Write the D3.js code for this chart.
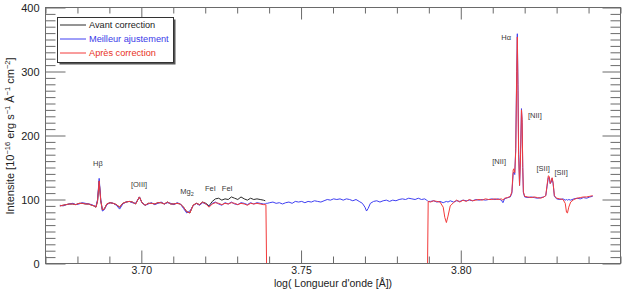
<!DOCTYPE html>
<html>
<head>
<meta charset="utf-8">
<script src="https://cdn.jsdelivr.net/npm/d3@7"></script>
<style>
html,body{margin:0;padding:0;background:#fff;}
svg{display:block;font-family:"Liberation Sans",Arial,Helvetica,sans-serif;}
</style>
</head>
<body>
<svg id="chart" width="630" height="290"></svg>
<script>
// ---- data ----
const logLambda = [
 3.6745,3.6755,3.6765,3.6775,3.6785,3.6795,3.6805,3.6815,3.6825,3.6835,3.6845,
 3.6852,3.6858,3.6863,3.6868,3.6873,3.6878,3.6884,
 3.6892,3.6902,3.6912,3.6922,3.6932,3.6942,3.6952,3.6962,3.6972,3.6982,3.6994,3.7002,3.7012,3.7022,3.7032,3.7042,3.7052,3.7062,3.7072,3.7082,3.7092,3.7102,3.7112,3.7122,3.7132,3.7142,3.7152,3.7162,3.7172,3.7182,3.7192,3.7202,3.7212,3.7222,3.7232,3.7242,3.7252,3.7262,3.7272,3.7282,3.7292,3.7302,3.7312,3.7322,3.7332,3.7342,3.7352,3.7362,3.7372,3.7382,
 3.7388,3.7390,3.7392,3.7394,
 3.7402,3.7412,3.7422,3.7432,3.7442,3.7452,3.7462,3.7472,3.7482,3.7492,3.7502,3.7512,3.7522,3.7532,3.7542,3.7552,3.7562,3.7572,3.7582,3.7592,3.7602,3.7612,3.7622,3.7632,3.7642,3.7652,3.7662,3.7672,3.7682,3.7692,
 3.7700,3.7705,3.7710,3.7717,
 3.7727,3.7737,3.7747,3.7757,3.7767,3.7777,3.7787,3.7797,3.7807,3.7817,3.7827,3.7837,3.7847,3.7857,3.7867,3.7877,3.7887,3.7893,
 3.7896,3.7898,
 3.7905,3.7915,3.7925,3.7935,3.7945,3.7950,3.7955,3.7960,3.7967,3.7977,3.7987,3.7997,3.8007,3.8017,3.8027,3.8037,3.8047,3.8057,3.8067,3.8077,3.8087,3.8097,3.8107,3.8117,3.8127,
 3.8132,3.8137,3.8147,3.8155,3.8160,3.8164,3.8166,3.8169,3.8172,3.8175,3.8177,3.8179,3.8181,3.8184,3.8187,3.8190,3.8192,3.8194,3.8196,3.8200,
 3.8210,3.8220,3.8230,3.8240,3.8250,3.8260,3.8266,3.8270,3.8274,3.8277,3.8280,3.8283,3.8286,3.8289,3.8293,
 3.8300,3.8310,3.8320,3.8327,3.8331,3.8334,3.8338,3.8344,3.8354,3.8364,3.8374,3.8384,3.8394,3.8404,3.8413
];

// "Avant correction": only the first part of the wavelength grid
const avant = [
 90,91,92,93,93,92,94,94,93,93,91,
 90,88,98,129,98,84,85,
 93,95,94,92,88,94,96,97,96,93,104,95,91,94,94,93,95,95,93,96,93,93,94,93,88,81,79,91,94,92,96,94,90,97,101,102,99,101,100,104,102,100,104,101,99,102,100,101,100,99,
 98
];

const ajustement = [
 91,90,92,93,94,92,93,95,94,93,92,
 90,89,100,133,100,82,84,
 92,95,94,91,85,93,96,97,95,94,104,95,91,93,95,92,94,96,93,95,94,92,95,93,86,79,82,90,94,91,95,93,89,94,96,93,91,95,93,96,93,92,95,94,92,95,93,95,94,93,
 93,94,94,94,
 95,96,94,95,93,95,96,94,97,96,97,95,97,96,98,97,96,98,100,99,101,100,101,99,101,100,98,100,97,94,
 88,82,86,94,
 97,98,96,98,99,97,99,98,100,101,100,102,101,100,102,100,101,99,
 98,97,
 97,98,96,97,95,96,97,96,98,96,98,97,99,98,99,98,100,99,100,99,100,101,100,101,99,
 95,101,103,104,110,140,143,139,180,300,359,280,180,122,170,242,220,150,111,104,
 103,104,103,102,103,104,106,120,134,134,125,127,133,125,105,
 101,100,101,99,100,99,100,99,101,102,101,103,102,104,105
];

const apres = [
 90,91,92,93,93,92,94,94,93,93,91,
 90,88,98,129,98,84,85,
 93,95,94,92,88,94,96,97,96,93,104,95,91,94,94,93,95,95,93,96,93,93,94,93,88,81,79,91,94,92,96,93,88,93,95,94,92,94,93,95,94,92,94,93,91,94,93,94,93,92,
 92,92,0,0,
 0,0,0,0,0,0,0,0,0,0,0,0,0,0,0,0,0,0,0,0,0,0,0,0,0,0,0,0,0,0,
 0,0,0,0,
 0,0,0,0,0,0,0,0,0,0,0,0,0,0,0,0,0,0,
 0,97,
 96,98,97,96,88,72,64,74,90,95,99,96,99,97,100,98,99,100,99,101,100,100,101,100,101,
 99,102,103,105,112,146,148,142,175,290,354,270,170,122,165,240,225,150,112,105,
 104,103,104,103,102,104,106,122,137,136,125,129,134,126,106,
 102,101,100,94,80,79,88,96,100,102,103,104,104,105,106
];

const seriesNames = ["Avant correction", "Meilleur ajustement", "Après correction"];
const seriesColors = ["#2a2a2a", "#3f3ff2", "#f23a3a"];
const legendTextColors = ["#222222", "#3a3ae8", "#e8321e"];

const xMajorTicks = [3.70, 3.75, 3.80];
const yMajorTicks = [0, 100, 200, 300, 400];

const lineLabels = ["Hβ", "[OIII]", "Mg2", "FeI", "FeI", "Hα", "[NII]", "[NII]", "[SII]", "[SII]"];
const lineLabelX = [3.6864, 3.6993, 3.7143, 3.7216, 3.7269, 3.8142, 3.8232, 3.8120, 3.8258, 3.8314];
const lineLabelY = [157, 124, 113, 118, 118, 354, 232, 159, 149, 142];

// ---- drawing ----
const svg = d3.select("#chart");
const L = 45.5, R = 620.5, T = 7.5, B = 263.5;
const x = d3.scaleLinear().domain([3.67, 3.85]).range([L, R]);
const y = d3.scaleLinear().domain([0, 400]).range([B, T]);

const axisColor = "#6a6a6a";

// data lines
const mk = (vals) => vals.map((v, i) => [logLambda[i], v]);
const line = d3.line().defined(d => d[1] != null).x(d => x(d[0])).y(d => y(d[1]));
[avant, ajustement, apres].forEach((vals, k) => {
  svg.append("path").datum(mk(vals))
    .attr("d", line).attr("fill", "none")
    .attr("stroke", seriesColors[k]).attr("stroke-width", 1)
    .attr("stroke-linejoin", "round");
});

// axes (ticks inward)
const minorX = d3.range(3.67, 3.8501, 0.01).map(v => +v.toFixed(2)).filter(v => !xMajorTicks.some(m => Math.abs(m - v) < 1e-6));
const minorY = d3.range(0, 401, 10).filter(v => v % 100 !== 0);

function styleAxis(g) {
  g.select(".domain").remove();
  g.selectAll(".tick line").attr("stroke", axisColor);
  g.selectAll(".tick text").attr("fill", "#222").attr("font-size", 10.5)
    .attr("font-family", "'Liberation Sans', Arial, sans-serif");
}

svg.append("g").attr("transform", `translate(0,${B})`)
  .call(d3.axisBottom(x).tickValues(minorX).tickSizeInner(-7).tickSizeOuter(0).tickFormat(""))
  .call(styleAxis);
svg.append("g").attr("transform", `translate(0,${B})`)
  .call(d3.axisBottom(x).tickValues(xMajorTicks).tickSizeInner(-13).tickSizeOuter(0).tickPadding(3).tickFormat(d3.format(".2f")))
  .call(styleAxis);
svg.append("g").attr("transform", `translate(0,${T})`)
  .call(d3.axisTop(x).tickValues(minorX).tickSizeInner(-6).tickSizeOuter(0).tickFormat(""))
  .call(styleAxis);
svg.append("g").attr("transform", `translate(0,${T})`)
  .call(d3.axisTop(x).tickValues(xMajorTicks).tickSizeInner(-12).tickSizeOuter(0).tickFormat(""))
  .call(styleAxis);

svg.append("g").attr("transform", `translate(${L},0)`)
  .call(d3.axisLeft(y).tickValues(minorY).tickSizeInner(-10).tickSizeOuter(0).tickFormat(""))
  .call(styleAxis);
svg.append("g").attr("transform", `translate(${L},0)`)
  .call(d3.axisLeft(y).tickValues(yMajorTicks).tickSizeInner(-20).tickSizeOuter(0).tickPadding(6).tickFormat(d3.format("d")))
  .call(g => { styleAxis(g); g.selectAll(".tick text").attr("font-size", 11); });
svg.append("g").attr("transform", `translate(${R},0)`)
  .call(d3.axisRight(y).tickValues(minorY).tickSizeInner(-10).tickSizeOuter(0).tickFormat(""))
  .call(styleAxis);
svg.append("g").attr("transform", `translate(${R},0)`)
  .call(d3.axisRight(y).tickValues(yMajorTicks).tickSizeInner(-18).tickSizeOuter(0).tickFormat(""))
  .call(styleAxis);

// frame
svg.append("rect").attr("x", L).attr("y", T).attr("width", R - L).attr("height", B - T)
  .attr("fill", "none").attr("stroke", axisColor).attr("stroke-width", 1);

// line annotations
const ann = svg.append("g").attr("font-size", 7.5).attr("fill", "#3a3a3a").attr("text-anchor", "middle");
lineLabels.forEach((t, i) => {
  const tx = ann.append("text").attr("x", x(lineLabelX[i])).attr("y", y(lineLabelY[i])).attr("dy", "0.35em");
  if (t === "Mg2") {
    tx.append("tspan").text("Mg");
    tx.append("tspan").attr("font-size", 5.5).attr("dy", "2").text("2");
  } else {
    tx.text(t);
  }
});

// axis titles
svg.append("text").attr("x", 333).attr("y", 287).attr("text-anchor", "middle")
  .attr("font-size", 10.5).attr("fill", "#222").text("log( Longueur d'onde [Å])");

const yt = svg.append("text").attr("transform", "translate(14,136) rotate(-90)")
  .attr("text-anchor", "middle").attr("font-size", 11).attr("fill", "#222");
yt.append("tspan").text("Intensite [10");
yt.append("tspan").attr("font-size", 7.5).attr("dy", -4.5).text("−16");
yt.append("tspan").attr("dy", 4.5).text(" erg s");
yt.append("tspan").attr("font-size", 7.5).attr("dy", -4.5).text("−1");
yt.append("tspan").attr("dy", 4.5).text(" Å");
yt.append("tspan").attr("font-size", 7.5).attr("dy", -4.5).text("−1");
yt.append("tspan").attr("dy", 4.5).text(" cm");
yt.append("tspan").attr("font-size", 7.5).attr("dy", -4.5).text("−2");
yt.append("tspan").attr("dy", 4.5).text("]");

// legend
const lg = svg.append("g");
lg.append("rect").attr("x", 59.5).attr("y", 19.5).attr("width", 116).attr("height", 45).attr("fill", "#555");
lg.append("rect").attr("x", 57.5).attr("y", 17.5).attr("width", 116).attr("height", 45)
  .attr("fill", "#fff").attr("stroke", "#333").attr("stroke-width", 1);
seriesNames.forEach((n, i) => {
  const yy = 25 + i * 14;
  lg.append("line").attr("x1", 60).attr("x2", 86).attr("y1", yy).attr("y2", yy)
    .attr("stroke", seriesColors[i]).attr("stroke-width", 1);
  lg.append("text").attr("x", 89).attr("y", yy).attr("dy", "0.35em")
    .attr("font-size", 9.2).attr("fill", legendTextColors[i]).text(n);
});
</script>
</body>
</html>
